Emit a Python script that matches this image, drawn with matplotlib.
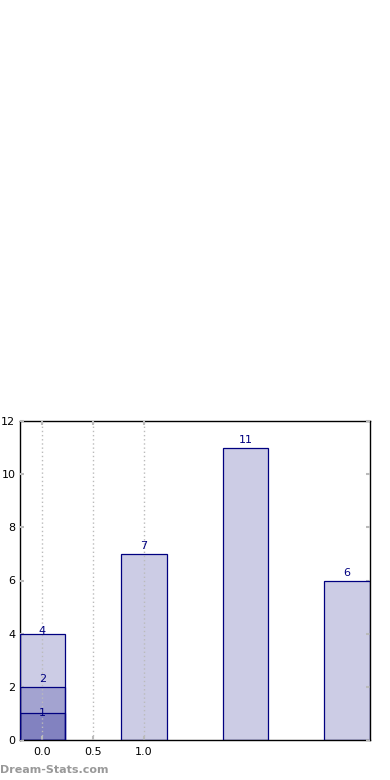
import matplotlib
matplotlib.use("Agg")
import matplotlib.pyplot as plt

# first group is drawn as overlapping bars (4, 2, 1), the rest single bars
positions = [0, 1, 2, 3]
first_group = [4, 2, 1]
other_values = [7, 11, 6]
xticks = [0.0, 0.5, 1.0]
xtick_labels = ["0.0", "0.5", "1.0"]
yticks = [0, 2, 4, 6, 8, 10, 12]

fig = plt.figure(figsize=(3.9, 7.8), dpi=100)
ax = fig.add_axes([19.5 / 390, 40 / 780, 350.5 / 390, 319 / 780])

w = 0.45
for v in first_group:
    ax.bar(positions[0], v, width=w, color="navy", alpha=0.2, zorder=1)
    ax.bar(positions[0], v, width=w, fill=False, edgecolor="navy", linewidth=0.9, zorder=3)
for p, v in zip(positions[1:], other_values):
    ax.bar(p, v, width=w, color="navy", alpha=0.2, zorder=1)
    ax.bar(p, v, width=w, fill=False, edgecolor="navy", linewidth=0.9, zorder=3)

# value labels
offs = {4: 0.1, 2: 0.3, 1: 0.0}
for v in first_group:
    ax.text(positions[0], v + offs[v], str(v), ha="center", va="center",
            color="navy", fontsize=8, zorder=4)
for p, v in zip(positions[1:], other_values):
    ax.text(p, v + 0.3, str(v), ha="center", va="center",
            color="navy", fontsize=8, zorder=4)

ax.set_xlim(-0.225, 3.225)
ax.set_ylim(0, 12)
ax.set_xticks(xticks)
ax.set_xticklabels(xtick_labels)
ax.set_yticks(yticks)
ax.tick_params(axis="both", labelsize=8, color="#bbbbbb", direction="in",
               length=3, width=1.5)
ax.tick_params(axis="y", right=True, pad=3)
ax.tick_params(axis="x", top=True, pad=5)
ax.xaxis.grid(True, linestyle=(0, (1, 2)), color="#bbbbbb", linewidth=1, zorder=2)
ax.set_axisbelow(False)
for s in ax.spines.values():
    s.set_linewidth(1)
    s.set_color("black")

fig.text(0.0, 10 / 780, "Dream-Stats.com", color="#999999", fontsize=8,
         fontweight="semibold", ha="left", va="center")

fig.savefig("out.png", dpi=100)
